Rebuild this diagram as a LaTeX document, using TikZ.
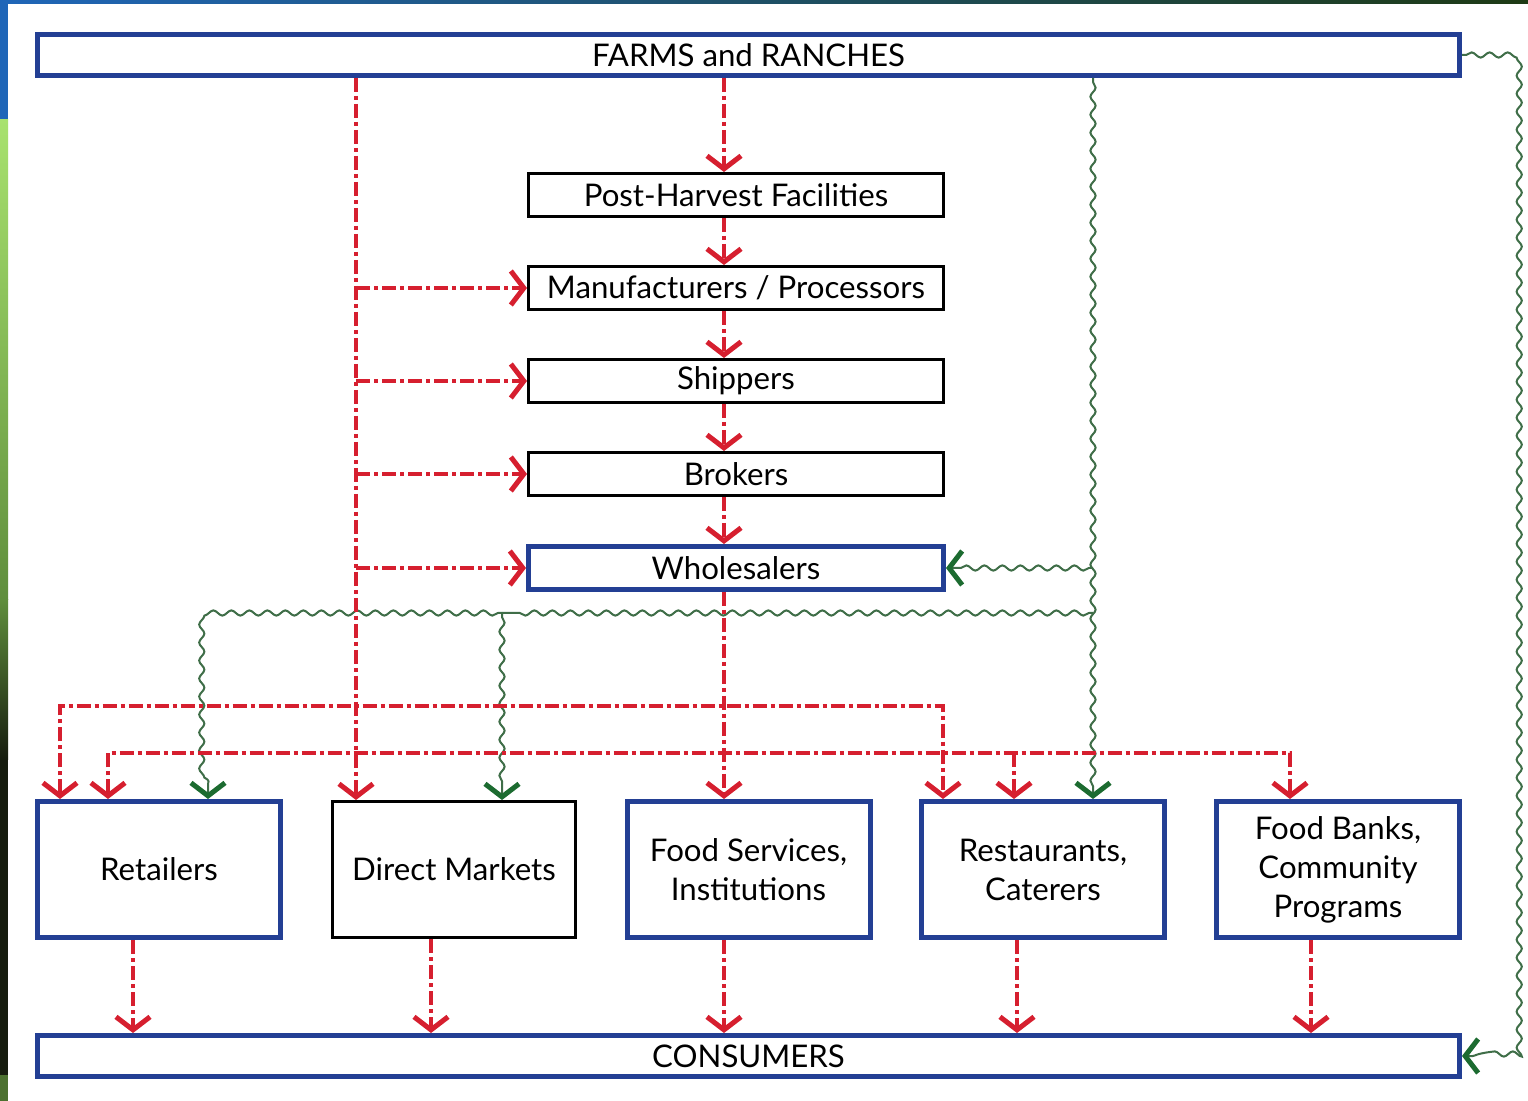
\documentclass[tikz,border=0pt]{standalone}
\usepackage{fontspec}
\setmainfont{Lato}
\usetikzlibrary{arrows.meta,decorations.pathmorphing}
\definecolor{boxblue}{HTML}{233F94}
\definecolor{flowred}{HTML}{D61F2F}
\definecolor{flowgreen}{HTML}{1C6B30}
\definecolor{wavegreen}{HTML}{3F6E48}
\definecolor{slideblue}{HTML}{1F66B8}
\definecolor{slidegreenA}{HTML}{A8E26E}
\definecolor{slidegreenB}{HTML}{5F8E3C}
\definecolor{slidedark}{HTML}{161C0E}
\definecolor{slidetopdark}{HTML}{1E3A14}
\begin{document}
\begin{tikzpicture}[x=0.5pt,y=-0.5pt,
  boxtext/.style={inner sep=0pt,align=center,fill=white,font=\fontsize{15.6}{19.5}\selectfont},
  bluebox/.style={boxtext,draw=boxblue,line width=2.5pt},
  blackbox/.style={boxtext,draw=black,line width=1.5pt},
  widebox/.style={minimum width=711pt,minimum height=20.5pt},
  midbox/.style={minimum width=207.5pt,minimum height=21.5pt},
  lowbox/.style={minimum width=121.5pt,minimum height=68pt},
  redtip/.tip={Straight Barb[length=6.5pt,width=17pt,line width=2.5pt,color=flowred]},
  greentip/.tip={Straight Barb[length=6.5pt,width=17pt,line width=2.5pt,color=flowgreen]},
  redline/.style={draw=flowred,line width=2.3pt,dash pattern=on 7pt off 2pt on 2pt off 2pt},
  redflow/.style={redline,-redtip},
  waveline/.style={draw=wavegreen,line width=1pt,decorate,decoration={snake,segment length=9pt,amplitude=1.3pt,pre length=2pt,post length=5pt}},
  greenflow/.style={waveline,-greentip}
]
% background
\fill[white] (0,0) rectangle (1528,1101);
\shade[left color=slideblue,right color=slidetopdark] (0,0) rectangle (1528,4);
\fill[slideblue] (0,0) rectangle (8,120);
\shade[top color=slidegreenA,bottom color=slidegreenB] (0,120) rectangle (8,600);
\shade[top color=slidegreenB,bottom color=slidedark] (0,600) rectangle (8,760);
\fill[slidedark] (0,760) rectangle (8,1075);
\fill[slidegreenB!80!black] (0,1075) rectangle (8,1101);
\useasboundingbox (0,0) rectangle (1528,1101);

% nodes
\node[bluebox,widebox] (farms) at (748.5,55) {FARMS and RANCHES};
\node[blackbox,midbox] (ph) at (736,195) {Post-Harvest Facilities};
\node[blackbox,midbox] (manu) at (736,288) {Manufacturers / Processors};
\node[blackbox,midbox] (ship) at (736,381) {Shippers};
\node[blackbox,midbox] (brok) at (736,474) {Brokers};
\node[bluebox,midbox] (whole) at (736,568) {Wholesalers};
\node[bluebox,lowbox] (retail) at (159,869.5) {Retailers};
\node[blackbox,lowbox] (direct) at (454,869.5) {Direct Markets};
\node[bluebox,lowbox] (food) at (748.5,869.5) {Food Services,\\Institutions};
\node[bluebox,lowbox] (rest) at (1043,869.5) {Restaurants,\\Caterers};
\node[bluebox,lowbox] (bank) at (1338,869.5) {Food Banks,\\Community\\Programs};
\node[bluebox,widebox] (cons) at (748.5,1056) {CONSUMERS};

% helper coordinates
\coordinate (lx) at (356,0);
\coordinate (cx) at (724,0);
\coordinate (gx) at (1093,0);
\coordinate (gy) at (0,613);
\coordinate (rx) at (1510,0);

% green wavy flows (drawn first, beneath red)
\draw[greenflow] (farms.east) -- (farms.east -| rx) -- (cons.east -| rx) -- (cons.east);
\draw[greenflow] (farms.south -| gx) -- (rest.north -| gx);
\draw[greenflow] (whole.east -| gx) -- (whole.east);
\coordinate (g1) at (208,613);
\coordinate (g2) at (502,613);
\draw[waveline] (gx |- gy) -- (g2);
\draw[greenflow] (g2) -- (g1) -- (retail.north -| g1);
\draw[greenflow] (g2) -- (direct.north -| g2);

% red flows: central chain
\draw[redflow] (farms.south -| cx) -- (ph.north -| cx);
\draw[redflow] (ph.south -| cx) -- (manu.north -| cx);
\draw[redflow] (manu.south -| cx) -- (ship.north -| cx);
\draw[redflow] (ship.south -| cx) -- (brok.north -| cx);
\draw[redflow] (brok.south -| cx) -- (whole.north -| cx);
\draw[redflow] (whole.south -| cx) -- (food.north -| cx);

% red flows: left trunk
\draw[redflow] (farms.south -| lx) -- (direct.north -| lx);
\draw[redflow] (manu.west -| lx) -- (manu.west);
\draw[redflow] (ship.west -| lx) -- (ship.west);
\draw[redflow] (brok.west -| lx) -- (brok.west);
\draw[redflow] (whole.west -| lx) -- (whole.west);

% red buses
\coordinate (a1) at (60,706);
\coordinate (a2) at (943,706);
\draw[redline,redtip-redtip] (retail.north -| a1) -- (a1) -- (a2) -- (rest.north -| a2);
\coordinate (b1) at (108,753);
\coordinate (b2) at (1290,753);
\coordinate (b3) at (1014,753);
\draw[redline,redtip-redtip] (retail.north -| b1) -- (b1) -- (b2) -- (bank.north -| b2);
\draw[redflow] (b3) -- (rest.north -| b3);

% red flows to consumers
\foreach \n/\x in {retail/133,direct/431,food/724,rest/1017,bank/1311}{
  \coordinate (d\n) at (\x,0);
  \draw[redflow] (\n.south -| d\n) -- (cons.north -| d\n);
}
\end{tikzpicture}
\end{document}
